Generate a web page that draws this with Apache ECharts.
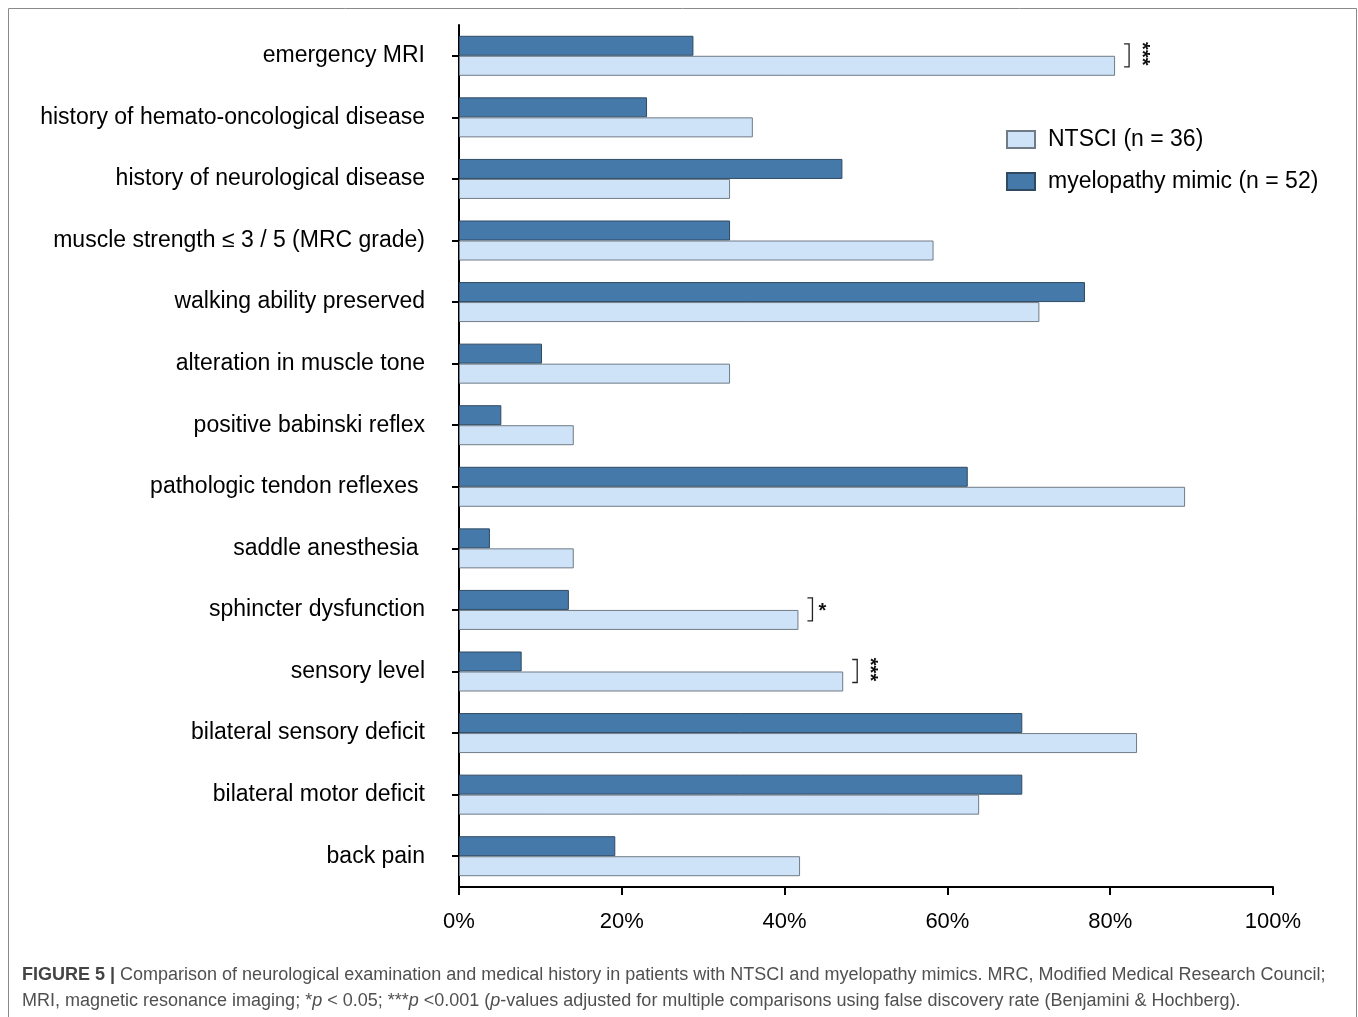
<!DOCTYPE html>
<html>
<head>
<meta charset="utf-8">
<script src="https://cdn.jsdelivr.net/npm/echarts@6/dist/echarts.min.js"></script>
<style>
  html, body { margin: 0; padding: 0; background: #fff; }
  #chart { width: 1358px; height: 1017px; }
</style>
</head>
<body>
<div id="chart"></div>
<script>
const categories = [
  'emergency MRI',
  'history of hemato-oncological disease',
  'history of neurological disease',
  'muscle strength \u2264 3 / 5 (MRC grade)',
  'walking ability preserved',
  'alteration in muscle tone',
  'positive babinski reflex',
  'pathologic tendon reflexes ',
  'saddle anesthesia ',
  'sphincter dysfunction',
  'sensory level',
  'bilateral sensory deficit',
  'bilateral motor deficit',
  'back pain'
]
// percent of patients
const ntsciValues = [80.6, 36.1, 33.3, 58.3, 71.3, 33.3, 14.1, 89.2, 14.1, 41.7, 47.2, 83.3, 63.9, 41.9]
const mimicValues = [28.8, 23.1, 47.1, 33.3, 76.9, 10.2, 5.2, 62.5, 3.8, 13.5, 7.7, 69.2, 69.2, 19.2]
const xTicks = [0, 20, 40, 60, 80, 100]
// significance marks (category, stars)
const sigMarks = [
  ['emergency MRI', '***'],
  ['sphincter dysfunction', '*'],
  ['sensory level', '***']
]

const FONT = '"Liberation Sans", Arial, Helvetica, sans-serif'
const chart = echarts.init(document.getElementById('chart'))

chart.setOption({
  animation: false,
  backgroundColor: '#fff',
  textStyle: { fontFamily: FONT },
  grid: { left: 459, right: 85, top: 25, bottom: 130 },
  legend: {
    data: ['NTSCI (n = 36)', 'myelopathy mimic (n = 52)'],
    orient: 'vertical',
    left: 1006,
    top: 128,
    padding: 0,
    itemWidth: 28,
    itemHeight: 17,
    itemGap: 19,
    icon: 'rect',
    textStyle: { fontSize: 23, color: '#000', padding: [0, 0, 0, 8] }
  },
  xAxis: {
    type: 'value',
    min: xTicks[0],
    max: xTicks[xTicks.length - 1],
    interval: 20,
    axisLine: { show: true, lineStyle: { color: '#000', width: 2 } },
    axisTick: { show: true, length: 8, lineStyle: { color: '#000', width: 2 } },
    splitLine: { show: false },
    axisLabel: { formatter: '{value}%', fontSize: 22, color: '#000', margin: 24 }
  },
  yAxis: {
    type: 'category',
    inverse: true,
    data: categories,
    axisLine: { show: true, lineStyle: { color: '#000', width: 2 } },
    axisTick: { show: true, alignWithLabel: true, length: 7, lineStyle: { color: '#000', width: 2 } },
    axisLabel: { fontSize: 23, color: '#000', margin: 34 }
  },
  series: [
    {
      name: 'myelopathy mimic (n = 52)',
      type: 'bar',
      data: mimicValues,
      barWidth: 20,
      barGap: '0%',
      itemStyle: { color: '#4479a9', borderColor: '#2f4a63', borderWidth: 1 }
    },
    {
      name: 'NTSCI (n = 36)',
      type: 'bar',
      data: ntsciValues,
      barWidth: 20,
      barGap: '0%',
      itemStyle: { color: '#cfe3f8', borderColor: '#6f7b86', borderWidth: 1 }
    }
  ]
})

// significance brackets placed through the axes
const graphics = []
sigMarks.forEach(([cat, stars]) => {
  const i = categories.indexOf(cat)
  const maxVal = Math.max(ntsciValues[i], mimicValues[i])
  const p = chart.convertToPixel({ gridIndex: 0 }, [maxVal, i])
  const bx = p[0] + 14
  const y0 = p[1] - 12
  const y1 = p[1] + 11
  graphics.push({
    type: 'polyline',
    shape: { points: [[bx - 5, y0], [bx, y0], [bx, y1], [bx - 5, y1]] },
    style: { stroke: '#222', lineWidth: 1.3, fill: null }
  })
  const multi = stars.length > 1
  graphics.push({
    type: 'text',
    x: multi ? bx + 12 : bx + 10,
    y: multi ? p[1] - 2 : p[1] + 2,
    rotation: multi ? -Math.PI / 2 : 0,
    style: {
      text: stars,
      font: 'bold 20px ' + FONT,
      fill: '#111',
      align: 'center',
      verticalAlign: 'middle'
    }
  })
})

// figure frame
graphics.push({
  type: 'rect',
  shape: { x: 8.5, y: 8.5, width: 1348, height: 1040 },
  style: { fill: null, stroke: '#8a8a8a', lineWidth: 1 },
  silent: true
})

// caption
graphics.push({
  type: 'text',
  left: 22,
  top: 962,
  style: {
    text: '{b|FIGURE 5 |} Comparison of neurological examination and medical history in patients with NTSCI and myelopathy mimics. MRC, Modified Medical Research Council;\nMRI, magnetic resonance imaging; *{i|p} < 0.05; ***{i|p} <0.001 ({i|p}-values adjusted for multiple comparisons using false discovery rate (Benjamini & Hochberg).',
    font: '18px ' + FONT,
    fill: '#505050',
    lineHeight: 26,
    rich: {
      b: { fontWeight: 'bold', fontSize: 18, fill: '#444', fontFamily: FONT },
      i: { fontStyle: 'italic', fontSize: 18, fill: '#505050', fontFamily: FONT }
    }
  }
})

chart.setOption({ graphic: graphics })
</script>
</body>
</html>
